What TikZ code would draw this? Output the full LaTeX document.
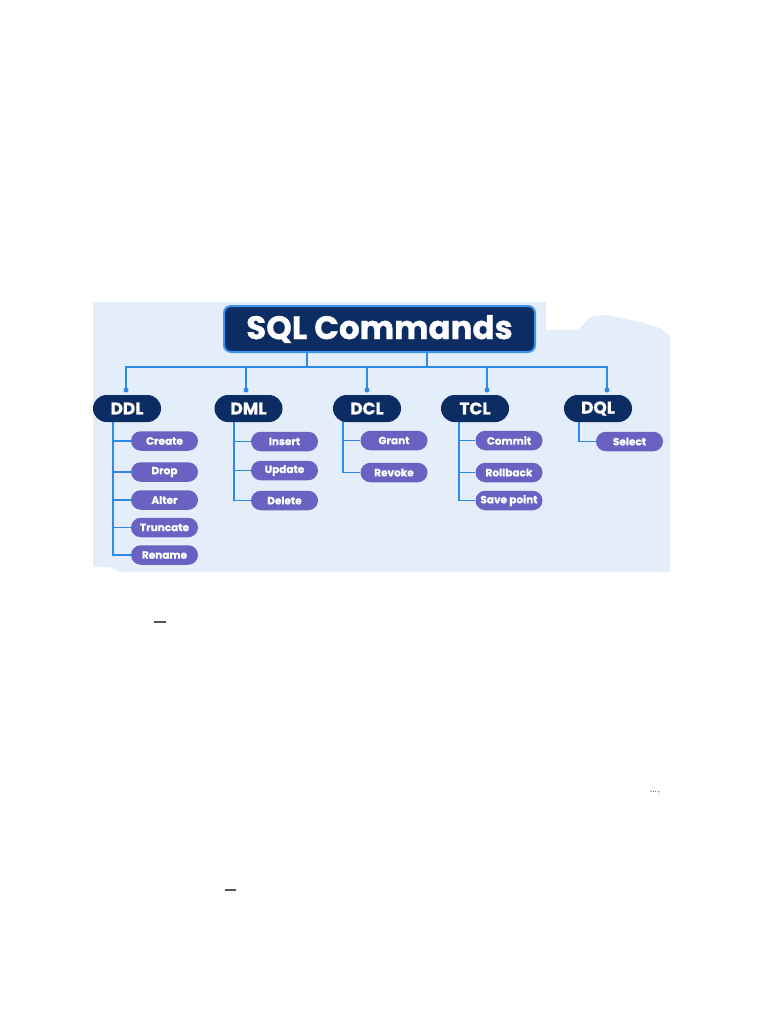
\documentclass[tikz,border=0pt]{standalone}
\usepackage{fontspec}
\newfontfamily\pop{Poppins}[BoldFeatures={FakeBold=0.8}]
\usetikzlibrary{shapes.misc,calc,backgrounds}
\definecolor{navy}{HTML}{0C2C64}
\definecolor{pill}{HTML}{6A62C3}
\definecolor{lineblue}{HTML}{2E8AE6}
\definecolor{sqlborder}{HTML}{3D96EE}
\definecolor{panel}{HTML}{E4EEFB}
\definecolor{mark}{HTML}{555555}
\begin{document}
\begin{tikzpicture}[x=1pt,y=-1pt,
  cat/.style={rounded rectangle, fill=navy, text=white, minimum width=68pt, minimum height=27pt, inner sep=0pt, font=\pop\bfseries\fontsize{17}{19}\selectfont},
  sub/.style={rounded rectangle, fill=pill, text=white, minimum width=67pt, minimum height=19.5pt, inner sep=0pt, font=\pop\bfseries\fontsize{10.5}{12}\selectfont},
  conn/.style={draw=lineblue, line width=1.6pt},
  dot/.style={circle, fill=lineblue, inner sep=0pt, minimum size=5pt},
  strayline/.style={draw=mark, line width=1.3pt}]
\useasboundingbox (0,0) rectangle (768,1024);
\begin{scope}[on background layer]
\fill[panel] (93,302) -- (546,302) -- (546,330) -- (578,330) -- (590,317) -- (607,315) -- (640,322) -- (660,328) -- (670,336) -- (670,572) -- (120,572) -- (110,567) -- (93,567) -- cycle;
\end{scope}
% title
\node[draw=sqlborder, line width=2pt, fill=navy, rounded corners=7pt, minimum width=311pt, minimum height=46pt, inner sep=0pt, text=white, font=\pop\bfseries\fontsize{32.5}{35}\selectfont] (sql) at (379.5,329) {SQL Commands};
% categories
\node[cat] (ddl) at (127,408.5) {DDL};
\node[cat] (dml) at (248.5,408.5) {DML};
\node[cat] (dcl) at (367,408.5) {DCL};
\node[cat] (tcl) at (475,408.5) {TCL};
\node[cat] (dql) at (598,408.5) {DQL};
% children
\node[sub] (create) at (164.5,441) {Create};
\node[sub] (drop) at (164.5,472) {Drop};
\node[sub] (alter) at (164.5,500) {Alter};
\node[sub] (truncate) at (164.5,527.5) {Truncate};
\node[sub] (rename) at (164.5,555) {Rename};
\node[sub] (insert) at (284.5,441.5) {Insert};
\node[sub] (update) at (284.5,470.5) {Update};
\node[sub] (delete) at (284.5,500.5) {Delete};
\node[sub] (grant) at (394,440.5) {Grant};
\node[sub] (revoke) at (394,472.5) {Revoke};
\node[sub] (commit) at (509,440.5) {Commit};
\node[sub] (rollback) at (509,472.5) {Rollback};
\node[sub] (savepoint) at (509,500.5) {Save point};
\node[sub] (select) at (629.5,441.5) {Select};
% bus coordinates
\coordinate (j1) at (307,367);
\coordinate (j2) at (427,367);
\coordinate (b1) at (126,367);
\coordinate (b2) at (246,367);
\coordinate (b3) at (367,367);
\coordinate (b4) at (487,367);
\coordinate (b5) at (607,367);
\coordinate (d1) at (126,390);
\coordinate (d2) at (246,390);
\coordinate (d3) at (367,390);
\coordinate (d4) at (487,390);
\coordinate (d5) at (607,390);
\begin{scope}[on background layer]
\draw[conn] (sql.south -| j1) -- (j1);
\draw[conn] (sql.south -| j2) -- (j2);
\draw[conn] (d1) -- (b1) -- (b5) -- (d5);
\draw[conn] (b2) -- (d2);
\draw[conn] (b3) -- (d3);
\draw[conn] (b4) -- (d4);
% trees
\foreach \c in {create,drop,alter,truncate,rename}
  \draw[conn] ([xshift=-14pt]ddl.center) |- (\c.west);
\foreach \c in {insert,update,delete}
  \draw[conn] ([xshift=-14.5pt]dml.center) |- (\c.west);
\foreach \c in {grant,revoke}
  \draw[conn] ([xshift=-24pt]dcl.center) |- (\c.west);
\foreach \c in {commit,rollback,savepoint}
  \draw[conn] ([xshift=-16pt]tcl.center) |- (\c.west);
\draw[conn] ([xshift=-19pt]dql.center) |- (select.west);
\end{scope}
\foreach \d in {d1,d2,d3,d4,d5}
  \node[dot] at (\d) {};
% stray marks
\coordinate (m1a) at (154,622); \coordinate (m1b) at (166,622);
\coordinate (m2a) at (225,890); \coordinate (m2b) at (236,890);
\draw[strayline] (m1a) -- (m1b);
\draw[strayline] (m2a) -- (m2b);
\node[text=mark, font=\fontsize{12}{13}\selectfont, inner sep=0pt, anchor=base] (dots) at (655,792) {\ldots,};
\end{tikzpicture}
\end{document}
